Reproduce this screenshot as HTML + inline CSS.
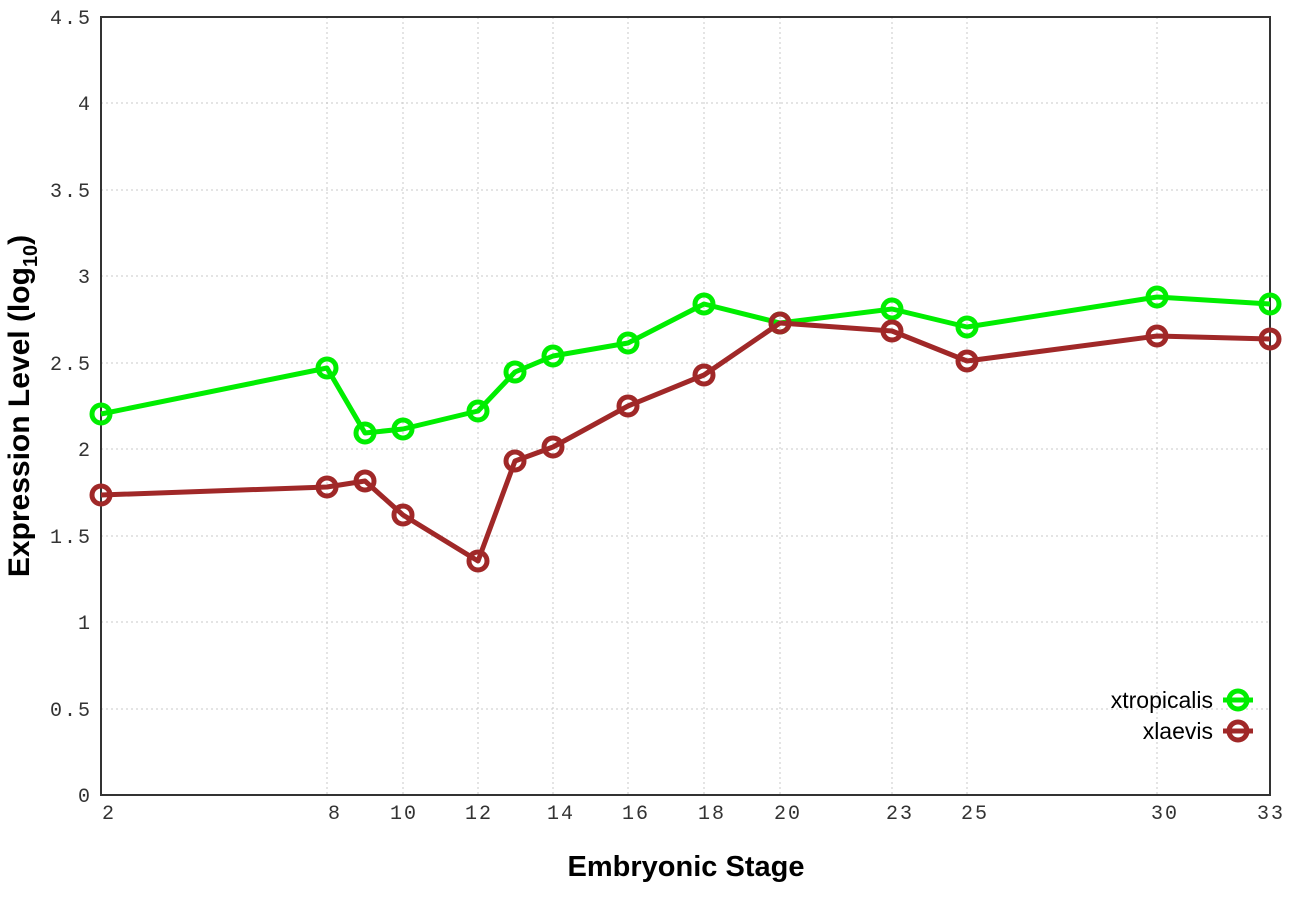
<!DOCTYPE html>
<html><head><style>body{margin:0;background:#fff}svg{display:block}</style></head><body>
<svg width="1296" height="907" xmlns="http://www.w3.org/2000/svg">
<rect width="1296" height="907" fill="#fff"/>
<g stroke="#c8c8c8" stroke-width="1" stroke-dasharray="2,3">
<line x1="101" x2="1270" y1="709" y2="709"/><line x1="101" x2="1270" y1="622" y2="622"/><line x1="101" x2="1270" y1="536" y2="536"/><line x1="101" x2="1270" y1="449" y2="449"/><line x1="101" x2="1270" y1="363" y2="363"/><line x1="101" x2="1270" y1="276" y2="276"/><line x1="101" x2="1270" y1="190" y2="190"/><line x1="101" x2="1270" y1="103" y2="103"/>
<line y1="17" y2="795" x1="327" x2="327"/><line y1="17" y2="795" x1="403" x2="403"/><line y1="17" y2="795" x1="478" x2="478"/><line y1="17" y2="795" x1="553" x2="553"/><line y1="17" y2="795" x1="628" x2="628"/><line y1="17" y2="795" x1="704" x2="704"/><line y1="17" y2="795" x1="780" x2="780"/><line y1="17" y2="795" x1="892" x2="892"/><line y1="17" y2="795" x1="967" x2="967"/><line y1="17" y2="795" x1="1157" x2="1157"/>
</g>
<rect x="101" y="17" width="1169" height="778" fill="none" stroke="#333" stroke-width="2"/>
<g font-family="Liberation Mono, monospace" font-size="20" fill="#333" text-anchor="end" letter-spacing="2">
<text x="92" y="802">0</text><text x="92" y="716">0.5</text><text x="92" y="629">1</text><text x="92" y="543">1.5</text><text x="92" y="456">2</text><text x="92" y="370">2.5</text><text x="92" y="283">3</text><text x="92" y="197">3.5</text><text x="92" y="110">4</text><text x="92" y="24">4.5</text>
</g>
<g font-family="Liberation Mono, monospace" font-size="20" fill="#333" text-anchor="middle" letter-spacing="2">
<text x="109" y="819">2</text><text x="335" y="819">8</text><text x="404" y="819">10</text><text x="479" y="819">12</text><text x="561" y="819">14</text><text x="636" y="819">16</text><text x="712" y="819">18</text><text x="788" y="819">20</text><text x="900" y="819">23</text><text x="975" y="819">25</text><text x="1165" y="819">30</text><text x="1271" y="819">33</text>
</g>
<text x="686" y="876" font-family="Liberation Sans, sans-serif" font-weight="bold" font-size="29" text-anchor="middle">Embryonic Stage</text>
<text transform="translate(29,406) rotate(-90)" font-family="Liberation Sans, sans-serif" font-weight="bold" font-size="30" text-anchor="middle">Expression Level (log<tspan font-size="20" dy="8">10</tspan><tspan dy="-8">)</tspan></text>
<g fill="none" stroke-width="5" stroke-linejoin="round">
<polyline stroke="#00ee00" points="101,414 327,368 365,433 403,429 478,411 515,372 553,356 628,343 704,304 780,323 892,309 967,327 1157,297 1270,304"/>
<g stroke="#00ee00"><circle cx="101" cy="414" r="9"/><circle cx="327" cy="368" r="9"/><circle cx="365" cy="433" r="9"/><circle cx="403" cy="429" r="9"/><circle cx="478" cy="411" r="9"/><circle cx="515" cy="372" r="9"/><circle cx="553" cy="356" r="9"/><circle cx="628" cy="343" r="9"/><circle cx="704" cy="304" r="9"/><circle cx="780" cy="323" r="9"/><circle cx="892" cy="309" r="9"/><circle cx="967" cy="327" r="9"/><circle cx="1157" cy="297" r="9"/><circle cx="1270" cy="304" r="9"/></g>
<polyline stroke="#a02828" points="101,495 327,487 365,481 403,515 478,561 515,461 553,447 628,406 704,375 780,323 892,331 967,361 1157,336 1270,339"/>
<g stroke="#a02828"><circle cx="101" cy="495" r="9"/><circle cx="327" cy="487" r="9"/><circle cx="365" cy="481" r="9"/><circle cx="403" cy="515" r="9"/><circle cx="478" cy="561" r="9"/><circle cx="515" cy="461" r="9"/><circle cx="553" cy="447" r="9"/><circle cx="628" cy="406" r="9"/><circle cx="704" cy="375" r="9"/><circle cx="780" cy="323" r="9"/><circle cx="892" cy="331" r="9"/><circle cx="967" cy="361" r="9"/><circle cx="1157" cy="336" r="9"/><circle cx="1270" cy="339" r="9"/></g>
<line x1="1223" x2="1253" y1="700" y2="700" stroke="#00ee00"/><circle cx="1238" cy="700" r="9" stroke="#00ee00"/>
<line x1="1223" x2="1253" y1="731" y2="731" stroke="#a02828"/><circle cx="1238" cy="731" r="9" stroke="#a02828"/>
</g>
<g font-family="Liberation Sans, sans-serif" font-size="23" text-anchor="end" fill="#000">
<text x="1213" y="708">xtropicalis</text><text x="1213" y="739">xlaevis</text>
</g>
</svg>
</body></html>
